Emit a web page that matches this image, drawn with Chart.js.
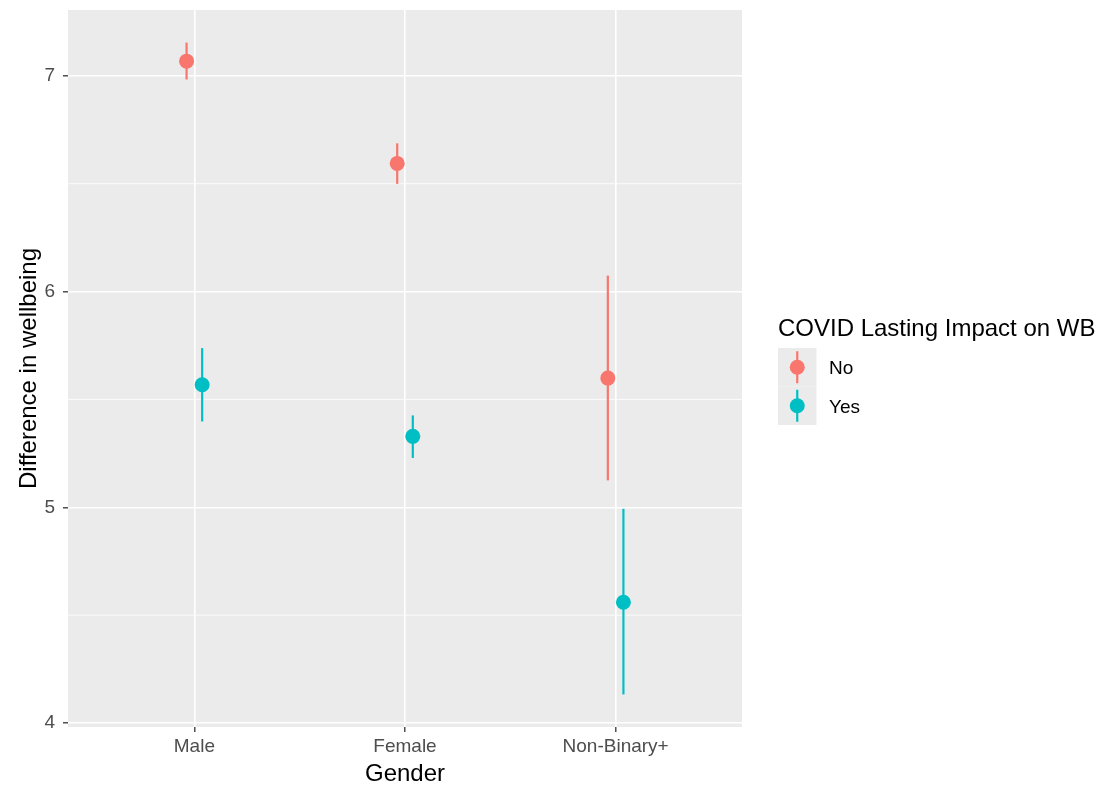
<!DOCTYPE html>
<html>
<head>
<meta charset="utf-8">
<script src="https://cdn.jsdelivr.net/npm/chart.js@4"></script>
<style>
html,body{margin:0;padding:0;background:#fff;}
#wrap{width:1110px;height:791px;}
</style>
</head>
<body>
<div id="wrap"><canvas id="c" width="1110" height="791"></canvas></div>
<script>
// ---- data ----
const categories = ['Male', 'Female', 'Non-Binary+'];
const seriesNames = ['No', 'Yes'];
const noMean = [7.068, 6.594, 5.599];
const noLow  = [6.983, 6.499, 5.125];
const noHigh = [7.154, 6.687, 6.074];
const yesMean = [5.568, 5.329, 4.560];
const yesLow  = [5.398, 5.229, 4.133];
const yesHigh = [5.738, 5.426, 4.993];
const yTicks = [4, 5, 6, 7];
const yMinor = [4.5, 5.5, 6.5];

const colors = ['#F8766D', '#00BFC4'];
const dodge = 0.037;
const FONT = '"Liberation Sans", Arial, Helvetica, sans-serif';
const TARGET = { left: 68, top: 10, right: 742, bottom: 727 };

const allLow = noLow.concat(yesLow), allHigh = noHigh.concat(yesHigh);
const lo = Math.min(...allLow), hi = Math.max(...allHigh);
const pad = 0.05 * (hi - lo);

function makeSeries(mean, low, high, k) {
  return categories.map((c, i) => ({
    x: i + 1 + (k === 0 ? -dodge : dodge),
    y: mean[i], lo: low[i], hi: high[i]
  }));
}
const seriesData = [makeSeries(noMean, noLow, noHigh, 0), makeSeries(yesMean, yesLow, yesHigh, 1)];

const bgPlugin = {
  id: 'bg',
  beforeDraw(chart) {
    const {ctx, chartArea: a, scales} = chart;
    ctx.save();
    ctx.fillStyle = '#fff';
    ctx.fillRect(0, 0, chart.width, chart.height);
    ctx.fillStyle = '#EBEBEB';
    ctx.fillRect(a.left, a.top, a.right - a.left, a.bottom - a.top);
    ctx.strokeStyle = '#fff';
    ctx.lineWidth = 0.8;
    yMinor.forEach(v => {
      const y = scales.y.getPixelForValue(v);
      ctx.beginPath(); ctx.moveTo(a.left, y); ctx.lineTo(a.right, y); ctx.stroke();
    });
    ctx.restore();
  },
  beforeDatasetsDraw(chart) {
    const {ctx, scales} = chart;
    ctx.save();
    ctx.lineWidth = 2.2;
    chart.data.datasets.forEach((ds, k) => {
      ctx.strokeStyle = colors[k];
      ds.data.forEach(p => {
        const x = scales.x.getPixelForValue(p.x);
        ctx.beginPath();
        ctx.moveTo(x, scales.y.getPixelForValue(p.lo));
        ctx.lineTo(x, scales.y.getPixelForValue(p.hi));
        ctx.stroke();
      });
    });
    ctx.restore();
  },
  afterDraw(chart) {
    const {ctx, chartArea: a} = chart;
    ctx.save();
    // axis titles
    ctx.fillStyle = '#000';
    ctx.font = '24px ' + FONT;
    ctx.textAlign = 'center';
    ctx.textBaseline = 'alphabetic';
    ctx.fillText('Gender', (a.left + a.right) / 2, 781);
    ctx.save();
    ctx.translate(36, (a.top + a.bottom) / 2);
    ctx.rotate(-Math.PI / 2);
    ctx.fillText('Difference in wellbeing', 0, 0);
    ctx.restore();
    // legend
    ctx.textAlign = 'left';
    ctx.fillText('COVID Lasting Impact on WB', 778, 336);
    const kx = 778, ky = 348, kw = 38.5, kh = 38.5;
    seriesNames.forEach((n, k) => {
      const y0 = ky + k * kh;
      ctx.fillStyle = '#EBEBEB';
      ctx.fillRect(kx, y0, kw, kh);
      const cx = kx + kw / 2, cy = y0 + kh / 2;
      ctx.strokeStyle = colors[k];
      ctx.lineWidth = 2.2;
      ctx.beginPath(); ctx.moveTo(cx, cy - 16); ctx.lineTo(cx, cy + 16); ctx.stroke();
      ctx.fillStyle = colors[k];
      ctx.beginPath(); ctx.arc(cx, cy, 7.5, 0, Math.PI * 2); ctx.fill();
      ctx.fillStyle = '#000';
      ctx.font = '19px ' + FONT;
      ctx.fillText(n, 829, cy + 7);
    });
    ctx.restore();
  }
};

const layoutPadding = { left: 0, top: TARGET.top, right: 1110 - TARGET.right, bottom: 0 };

const chart = new Chart(document.getElementById('c'), {
  type: 'scatter',
  data: {
    datasets: seriesData.map((d, k) => ({
      label: seriesNames[k],
      data: d,
      backgroundColor: colors[k],
      borderColor: colors[k],
      borderWidth: 0,
      pointRadius: 7.5,
      pointHoverRadius: 7.5
    }))
  },
  options: {
    responsive: false,
    animation: false,
    events: [],
    layout: { padding: layoutPadding },
    plugins: { legend: { display: false }, tooltip: { enabled: false } },
    scales: {
      x: {
        type: 'linear',
        min: 1 - 0.6,
        max: categories.length + 0.6,
        afterBuildTicks: s => { s.ticks = categories.map((c, i) => ({ value: i + 1 })); },
        afterFit: s => { s.height = 791 - TARGET.bottom; s.paddingLeft = 0; s.paddingRight = 0; },
        ticks: {
          callback: v => categories[Math.round(v) - 1],
          color: '#4D4D4D',
          font: { family: FONT, size: 19 },
          padding: 3,
          maxRotation: 0,
          autoSkip: false
        },
        grid: { color: '#fff', lineWidth: 1.6, drawTicks: true, tickLength: 5, tickColor: '#333333', tickWidth: 1.3 },
        border: { display: false }
      },
      y: {
        type: 'linear',
        min: lo - pad,
        max: hi + pad,
        afterBuildTicks: s => { s.ticks = yTicks.map(v => ({ value: v })); },
        afterFit: s => { s.width = TARGET.left; s.paddingTop = 0; s.paddingBottom = 0; },
        ticks: {
          color: '#4D4D4D',
          font: { family: FONT, size: 19 },
          padding: 8,
          autoSkip: false
        },
        grid: { color: '#fff', lineWidth: 1.6, drawTicks: true, tickLength: 5, tickColor: '#333333', tickWidth: 1.3 },
        border: { display: false }
      }
    }
  },
  plugins: [bgPlugin]
});

// nudge layout so the panel sits exactly where the reference panel is
for (let i = 0; i < 4; i++) {
  const a = chart.chartArea;
  const dt = a.top - TARGET.top, dr = TARGET.right - a.right, dl = a.left - TARGET.left, db = TARGET.bottom - a.bottom;
  if (Math.abs(dt) < 0.5 && Math.abs(dr) < 0.5 && Math.abs(dl) < 0.5 && Math.abs(db) < 0.5) break;
  layoutPadding.top -= dt; layoutPadding.right -= dr; layoutPadding.left -= dl; layoutPadding.bottom -= db;
  chart.config.options.layout.padding = Object.assign({}, layoutPadding);
  chart.update();
}
</script>
</body>
</html>
